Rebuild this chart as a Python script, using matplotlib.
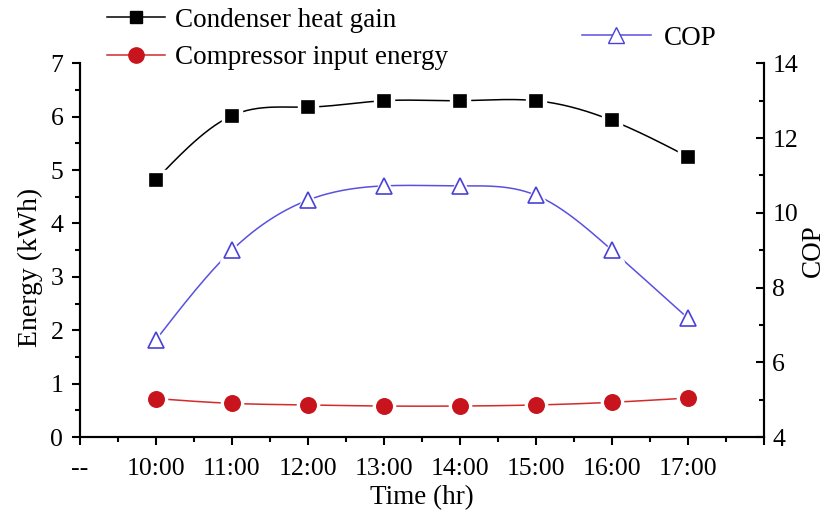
import numpy as np
import matplotlib.pyplot as plt
from matplotlib.lines import Line2D

# data
tick_labels = ['--', '10:00', '11:00', '12:00', '13:00', '14:00', '15:00', '16:00', '17:00', '']
hours = [1, 2, 3, 4, 5, 6, 7, 8]
condenser = [4.82, 6.02, 6.18, 6.30, 6.30, 6.30, 5.93, 5.25]
compressor = [0.72, 0.63, 0.60, 0.58, 0.58, 0.60, 0.65, 0.73]
cop = [6.6, 9.0, 10.34, 10.72, 10.72, 10.47, 9.0, 7.18]

plt.rcParams['font.family'] = ['Liberation Serif', 'DejaVu Serif']


def spline(x, y, n=200):
    # natural cubic spline, just for drawing the smooth connecting line
    x = np.asarray(x, float)
    y = np.asarray(y, float)
    k = len(x)
    h = np.diff(x)
    A = np.zeros((k, k))
    r = np.zeros(k)
    A[0, 0] = A[-1, -1] = 1
    for i in range(1, k - 1):
        A[i, i - 1] = h[i - 1]
        A[i, i] = 2 * (h[i - 1] + h[i])
        A[i, i + 1] = h[i]
        r[i] = 6 * ((y[i + 1] - y[i]) / h[i] - (y[i] - y[i - 1]) / h[i - 1])
    m = np.linalg.solve(A, r)
    xs = np.linspace(x[0], x[-1], n)
    idx = np.clip(np.searchsorted(x, xs) - 1, 0, k - 2)
    x0, x1 = x[idx], x[idx + 1]
    hh = x1 - x0
    t0, t1 = x1 - xs, xs - x0
    ys = (m[idx] * t0**3 + m[idx + 1] * t1**3) / (6 * hh) \
        + (y[idx] / hh - m[idx] * hh / 6) * t0 + (y[idx + 1] / hh - m[idx + 1] * hh / 6) * t1
    return xs, ys


fig = plt.figure(figsize=(8.27, 5.14), dpi=100)
ax = fig.add_axes([0.0967, 0.1498, 0.827, 0.727])
ax2 = ax.twinx()

def draw(a, x, y, color, marker, mfc, ms, mec):
    xs, ys = spline(x, y)
    a.plot(xs, ys, color=color, lw=1.1, zorder=2)
    a.plot(x, y, ls='none', marker=marker, ms=ms + 5, mfc='white', mec='white', zorder=3)
    a.plot(x, y, ls='none', marker=marker, ms=ms, mfc=mfc, mec=mec, mew=1.2, zorder=4)

draw(ax, hours, condenser, 'black', 's', 'black', 9, 'black')
draw(ax, hours, compressor, '#d42a2a', 'o', '#c8141c', 11, '#c8141c')
draw(ax2, hours, cop, '#5a50e0', '^', 'white', 12, '#4a40d8')

ax.set_xlim(0, 9)
ax.set_ylim(0, 7)
ax2.set_ylim(4, 14)
ax.set_xticks(range(10))
ax.set_xticklabels(tick_labels)
ax.set_xticks(np.arange(0.5, 9, 1), minor=True)
ax.set_yticks(range(8))
ax.set_yticks(np.arange(0.5, 7, 1), minor=True)
ax2.set_yticks(range(4, 15, 2))
ax2.set_yticks(range(5, 14, 2), minor=True)

for a in (ax, ax2):
    a.spines['top'].set_visible(False)
    for s in a.spines.values():
        s.set_linewidth(1.5)
ax.tick_params(axis='both', which='major', direction='out', length=6, width=1.5, labelsize=18.5)
ax.tick_params(axis='x', which='major', pad=9)
ax.tick_params(axis='y', which='major', pad=6)
ax.tick_params(axis='both', which='minor', direction='out', length=3.5, width=1.5)
ax2.tick_params(axis='y', which='major', direction='in', length=6, width=1.5, labelsize=18.5, pad=6)
ax2.tick_params(axis='y', which='minor', direction='in', length=3.5, width=1.5)

ax.set_xlabel('Time (hr)', fontsize=19.5, labelpad=4)
ax.set_ylabel('Energy (kWh)', fontsize=20)
ax.yaxis.set_label_coords(-0.054, 0.455)
ax2.set_ylabel('COP', fontsize=19.5, labelpad=2)

h1 = [Line2D([], [], color='black', lw=1.1, marker='s', ms=9, mfc='black', mec='black'),
      Line2D([], [], color='#d42a2a', lw=1.1, marker='o', ms=11, mfc='#c8141c', mec='#c8141c')]
fig.legend(h1, ['Condenser heat gain', 'Compressor input energy'], loc='upper left',
           bbox_to_anchor=(0.100, 1.032), frameon=False, fontsize=19.5, handlelength=2.15,
           handletextpad=0.37, labelspacing=0.45)
h2 = [Line2D([], [], color='#5a50e0', lw=1.1, marker='^', ms=12, mfc='white', mec='#4a40d8')]
fig.legend(h2, ['COP'], loc='upper left', bbox_to_anchor=(0.674, 0.997), frameon=False,
           fontsize=19.5, handlelength=2.55, handletextpad=0.48)

fig.savefig('out.png', dpi=100)
